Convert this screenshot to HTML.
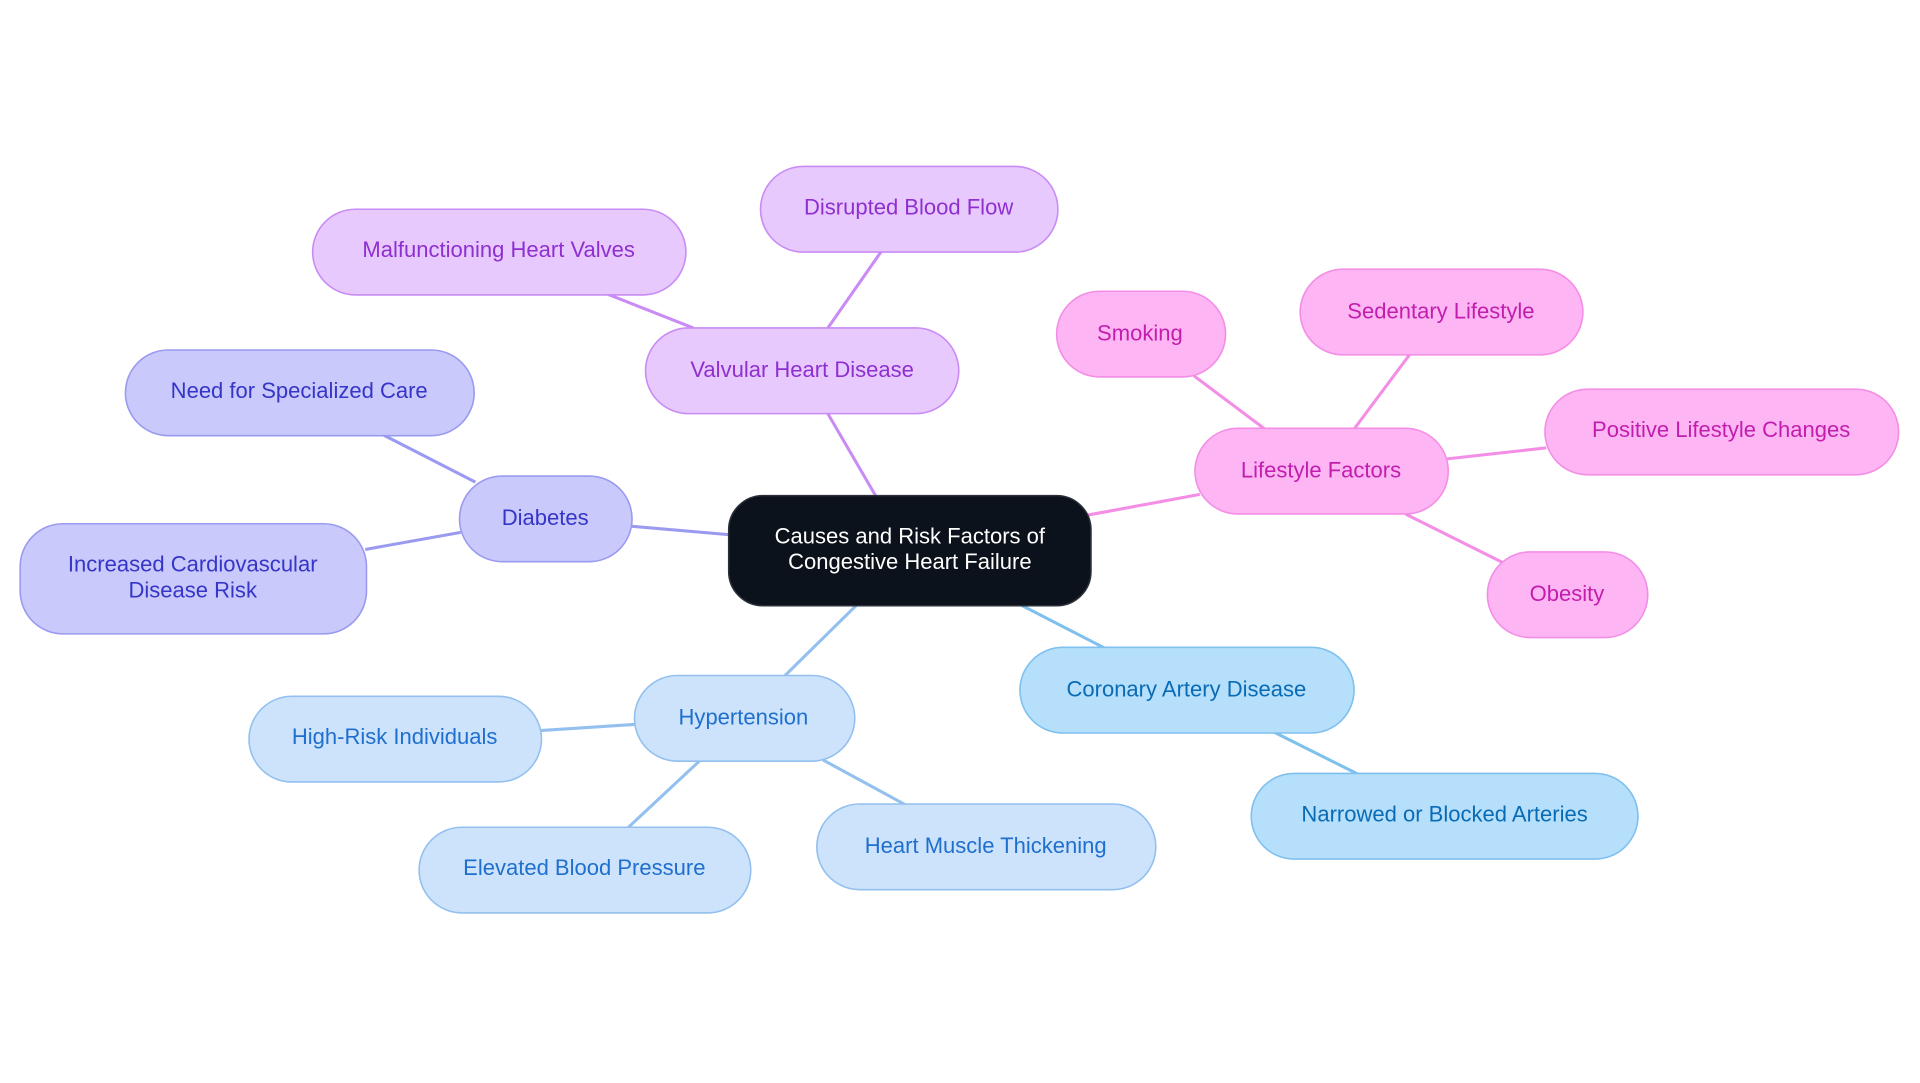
<!DOCTYPE html>
<html><head><meta charset="utf-8"><style>
html,body{margin:0;padding:0;background:#fff;}
svg{display:block}
text{font-family:"Liberation Sans",sans-serif;font-size:18px;text-anchor:middle;dominant-baseline:central}
</style></head><body>
<svg width="1920" height="1083" viewBox="0 0 1568 885" xmlns="http://www.w3.org/2000/svg">
<g stroke-width="2.5" fill="none">
<line x1="715" y1="405" x2="676" y2="338" stroke="#c98bf5"/>
<line x1="676" y1="268" x2="720" y2="205" stroke="#c98bf5"/>
<line x1="566" y1="268" x2="495" y2="240" stroke="#c98bf5"/>
<line x1="596" y1="437" x2="515" y2="430" stroke="#9a9af0"/>
<line x1="388" y1="394" x2="310" y2="354" stroke="#9a9af0"/>
<line x1="376" y1="435" x2="298" y2="449" stroke="#9a9af0"/>
<line x1="888" y1="421" x2="980" y2="404" stroke="#f48de6"/>
<line x1="1035" y1="352" x2="975" y2="307" stroke="#f48de6"/>
<line x1="1105" y1="352" x2="1152" y2="289" stroke="#f48de6"/>
<line x1="1182" y1="375" x2="1263" y2="366" stroke="#f48de6"/>
<line x1="1148" y1="420" x2="1228" y2="460" stroke="#f48de6"/>
<line x1="700" y1="494" x2="640" y2="553" stroke="#93c0ef"/>
<line x1="518" y1="592" x2="441" y2="597" stroke="#93c0ef"/>
<line x1="572" y1="621" x2="512" y2="677" stroke="#93c0ef"/>
<line x1="672" y1="621" x2="740" y2="658" stroke="#93c0ef"/>
<line x1="833" y1="494" x2="903" y2="530" stroke="#7fc0ee"/>
<line x1="1040" y1="598" x2="1110" y2="633" stroke="#7fc0ee"/>
</g>
<g stroke-width="1.3">
<rect x="595" y="405" width="296" height="90" rx="28" fill="#0c121b" stroke="#2a2f38"/>
<g fill="#e8c9fd" stroke="#c98bf5">
<rect x="527" y="268" width="256" height="70" rx="35"/>
<rect x="621" y="136" width="243" height="70" rx="35"/>
<rect x="255" y="171" width="305" height="70" rx="35"/>
</g>
<g fill="#c9c9fb" stroke="#9a9af0">
<rect x="375" y="389" width="141" height="70" rx="35"/>
<rect x="102" y="286" width="285" height="70" rx="35"/>
<rect x="16" y="428" width="283" height="90" rx="35"/>
</g>
<g fill="#fdb5f3" stroke="#f48de6">
<rect x="976" y="350" width="207" height="70" rx="35"/>
<rect x="863" y="238" width="138" height="70" rx="35"/>
<rect x="1062" y="220" width="231" height="70" rx="35"/>
<rect x="1262" y="318" width="289" height="70" rx="35"/>
<rect x="1215" y="451" width="131" height="70" rx="35"/>
</g>
<g fill="#cde3fb" stroke="#93c0ef">
<rect x="518" y="552" width="180" height="70" rx="35"/>
<rect x="203" y="569" width="239" height="70" rx="35"/>
<rect x="342" y="676" width="271" height="70" rx="35"/>
<rect x="667" y="657" width="277" height="70" rx="35"/>
</g>
<g fill="#b5dffb" stroke="#7fc0ee">
<rect x="833" y="529" width="273" height="70" rx="35"/>
<rect x="1022" y="632" width="316" height="70" rx="35"/>
</g>
</g>
<text x="743" y="438" fill="#fff">Causes and Risk Factors of</text>
<text x="743" y="459" fill="#fff">Congestive Heart Failure</text>
<g fill="#8e2fd0">
<text x="655" y="302">Valvular Heart Disease</text>
<text x="742" y="169">Disrupted Blood Flow</text>
<text x="407" y="204">Malfunctioning Heart Valves</text>
</g>
<g fill="#3535c8">
<text x="445" y="423">Diabetes</text>
<text x="244" y="319">Need for Specialized Care</text>
<text x="157" y="461">Increased Cardiovascular</text>
<text x="157" y="482">Disease Risk</text>
</g>
<g fill="#c21eae">
<text x="1079" y="384">Lifestyle Factors</text>
<text x="931" y="272">Smoking</text>
<text x="1177" y="254">Sedentary Lifestyle</text>
<text x="1406" y="351">Positive Lifestyle Changes</text>
<text x="1280" y="485">Obesity</text>
</g>
<g fill="#1f6fce">
<text x="607" y="586">Hypertension</text>
<text x="322" y="602">High-Risk Individuals</text>
<text x="477" y="709">Elevated Blood Pressure</text>
<text x="805" y="691">Heart Muscle Thickening</text>
</g>
<g fill="#0a6bb5">
<text x="969" y="563">Coronary Artery Disease</text>
<text x="1180" y="665">Narrowed or Blocked Arteries</text>
</g>
</svg>
</body></html>
